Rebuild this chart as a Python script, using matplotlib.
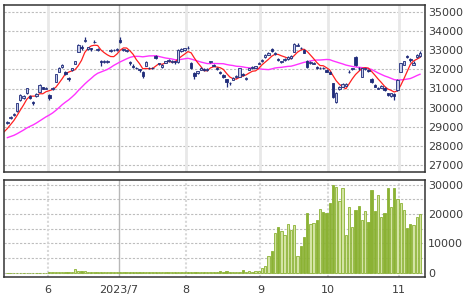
import matplotlib
matplotlib.use('Agg')
import matplotlib.pyplot as plt
import numpy as np
import pandas as pd

# month labels and number of daily bars shown per month (May..Nov)
month_labels = ['6', '2023/7', '8', '9', '10', '11']
month_days = [13, 22, 21, 23, 21, 22, 7]

# closes before the visible window, only needed for the moving averages
hist_close = [28050, 28150, 28100, 28250, 28200, 28300, 28350, 28250, 28300, 28400,
              28350, 28300, 28200, 28350, 28450, 28400, 28300, 28450, 28500, 28400,
              28500, 28600, 28900, 29250]

opens = [29200, 29450, 29600, 29820, 30400, 30480, 30750, 30620, 30300, 30600,
         30830, 31060, 31000, 30680, 30950, 31360, 31880, 32120, 31850, 31560,
         31950, 32300, 32930, 33200, 33500, 33080, 33100, 33420, 33020, 32450,
         32380, 32400, 32980, 33000, 33030, 33550, 33000, 32950, 32400, 32200,
         32100, 32000, 31850, 32200, 32100, 32050, 32700, 32280, 32150, 32350,
         32450, 32400, 32420, 32400, 32950, 33000, 33150, 32350, 31800, 31800,
         31980, 32020, 31950, 32380, 32250, 32100, 31880, 31700, 31480, 31300,
         31450, 31600, 31620, 31750, 31480, 31980, 32050, 32100, 32300, 32420,
         32650, 32780, 33050, 32800, 32550, 32380, 32500, 32560, 32600, 32930,
         33250, 33150, 33000, 32460, 32350, 32300, 32150, 32050, 32100, 31950,
         31850, 31270, 30300, 30950, 31100, 31150, 31850, 32000, 32670, 32100,
         31620, 32000, 31980, 31500, 31200, 31000, 31050, 31050, 30750, 30600,
         30700, 30920, 31880, 32250, 32720, 32560, 32250, 32650, 32700]
highs = [29300, 29580, 29720, 30250, 30700, 30650, 31050, 30680, 30340, 30760,
         31220, 31100, 31100, 30720, 31060, 31780, 32140, 32260, 31900, 31600,
         32100, 32460, 33320, 33260, 33680, 33200, 33150, 33560, 33120, 32520,
         32490, 32500, 33080, 33080, 33120, 33680, 33090, 33040, 32450, 32260,
         32150, 32040, 31900, 32440, 32150, 32140, 32760, 32360, 32260, 32460,
         32540, 32480, 32460, 33060, 33120, 33140, 33240, 32400, 31850, 31930,
         32110, 32060, 32070, 32460, 32300, 32140, 31920, 31740, 31520, 31340,
         31580, 31720, 32100, 31800, 31600, 32100, 32180, 32200, 32400, 32540,
         32820, 32890, 33100, 32900, 32600, 32460, 32600, 32680, 32740, 33380,
         33400, 33200, 33060, 32500, 32440, 32400, 32200, 32140, 32140, 32000,
         31900, 31300, 30800, 31140, 31280, 31300, 31950, 32100, 32720, 32140,
         32100, 32100, 32020, 31540, 31240, 31090, 31190, 31090, 30790, 30790,
         30740, 31490, 32360, 32460, 32760, 32600, 32420, 32820, 32960]
lows = [29150, 29420, 29560, 29790, 30370, 30440, 30720, 30440, 30120, 30560,
        30800, 30950, 30960, 30420, 30900, 31330, 31850, 32080, 31700, 31380,
        31920, 32280, 32900, 33040, 33450, 33040, 32980, 33380, 32980, 32200,
        32340, 32360, 32940, 32960, 32990, 33400, 32960, 32900, 32250, 32100,
        32020, 31880, 31550, 32170, 32020, 32000, 32560, 32230, 32100, 32320,
        32400, 32360, 32260, 32360, 32920, 32960, 33060, 32020, 31500, 31760,
        31950, 31940, 31920, 32340, 32160, 31960, 31740, 31550, 31100, 31180,
        31420, 31560, 31600, 31640, 31440, 31950, 32020, 32060, 32260, 32380,
        32620, 32750, 32940, 32760, 32420, 32340, 32460, 32520, 32560, 32900,
        33220, 33060, 32840, 32060, 32300, 32260, 32020, 32000, 32000, 31840,
        31740, 30520, 30250, 30920, 31060, 31120, 31800, 31960, 32200, 31960,
        31580, 31960, 31860, 31300, 31060, 30960, 31020, 30880, 30600, 30560,
        30420, 30880, 31840, 32210, 32580, 32400, 32210, 32610, 32660]
closes = [29260, 29520, 29660, 30220, 30660, 30600, 31010, 30500, 30220, 30720,
          31180, 31000, 31050, 30480, 31020, 31750, 32100, 32220, 31750, 31480,
          32060, 32420, 33280, 33140, 33540, 33160, 33050, 33460, 33080, 32380,
          32450, 32460, 33020, 33040, 33080, 33450, 33050, 33000, 32320, 32150,
          32060, 31970, 31680, 32400, 32060, 32100, 32620, 32330, 32230, 32420,
          32500, 32450, 32380, 33020, 33080, 33100, 33100, 32060, 31650, 31900,
          32080, 31980, 32030, 32420, 32200, 32000, 31800, 31590, 31360, 31270,
          31550, 31680, 32060, 31700, 31560, 32060, 32150, 32160, 32360, 32500,
          32780, 32850, 32980, 32850, 32480, 32420, 32560, 32640, 32700, 33330,
          33300, 33100, 32880, 32110, 32400, 32350, 32060, 32100, 32060, 31880,
          31780, 30570, 30750, 31100, 31240, 31260, 31880, 32060, 32230, 32060,
          32060, 32060, 31920, 31360, 31100, 31050, 31150, 30920, 30660, 30750,
          30600, 31450, 32320, 32420, 32640, 32480, 32360, 32780, 32880]
volume = [0, 0, 0, 0, 0, 0, 0, 0, 0, 0,
          0, 0, 0, 100, 150, 120, 100, 150, 200, 150,
          250, 1100, 450, 550, 500, 150, 120, 100, 150, 100,
          120, 150, 130, 100, 120, 150, 100, 120, 100, 150,
          120, 100, 130, 150, 120, 100, 120, 150, 130, 100,
          120, 150, 120, 300, 350, 250, 200, 150, 120, 150,
          130, 100, 150, 120, 150, 350, 450, 400, 450, 350,
          300, 250, 300, 800, 350, 450, 400, 680, 700, 1600,
          2200, 5600, 7500, 13500, 15500, 14100, 12750, 16700, 14450, 16250,
          5800, 9000, 12170, 20350, 16600, 16950, 17860, 21800, 20600, 20350,
          23760, 30000, 29200, 24340, 28900, 12750, 22300, 15500, 21480, 22640,
          18070, 21030, 17290, 28300, 20930, 26600, 19000, 20460, 28900, 22300,
          28900, 25130, 23660, 21380, 15240, 16600, 16160, 19000, 20000]

o = np.array(opens)
h = np.array(highs)
l = np.array(lows)
c = np.array(closes)
vol = np.array(volume)
n = len(c)
x = np.arange(n)
up = c >= o

# moving averages over history + visible closes
c_all = pd.Series(hist_close + closes)
x_all = np.arange(-len(hist_close), n)
ma5 = c_all.rolling(5).mean()
ma25 = c_all.rolling(25).mean()

month_pos = np.cumsum(month_days)[:-1] - 0.5

navy = '#1f2b7a'
green = '#8bb234'
txt = '#3c3c3c'

fig = plt.figure(figsize=(4.7, 2.95), dpi=100)
ax1 = fig.add_axes([4 / 470, 1 - 172 / 295, 421 / 470, 167 / 295])
ax2 = fig.add_axes([4 / 470, 1 - 277 / 295, 421 / 470, 97 / 295])

# price panel
for v in np.arange(27000, 35001, 1000):
    ax1.axhline(v, color='#bdbdbd', lw=0.8, ls=(0, (2, 1.5)), zorder=0)
for pos, lab in zip(month_pos, month_labels):
    if '/' in lab:
        ax1.axvline(pos, color='#b8b8b8', lw=1.0, zorder=0)
    else:
        ax1.axvline(pos, color='#e8e8e8', lw=2.0, zorder=0)

ax1.plot(x_all, ma25, color='#ff33ff', lw=1.0, zorder=2)
ax1.plot(x_all, ma5, color='#ff2020', lw=0.9, zorder=2)

body_low = np.minimum(o, c)
body_h = np.maximum(np.abs(c - o), 25)
ax1.vlines(x, l, h, color=navy, lw=0.9, zorder=3)
ax1.bar(x[up], body_h[up], 0.75, bottom=body_low[up], color='#c5cbe8',
        edgecolor=navy, lw=0.6, zorder=4)
ax1.bar(x[~up], body_h[~up], 0.75, bottom=body_low[~up], color=navy,
        edgecolor=navy, lw=0.6, zorder=4)

ax1.set_xlim(-1.05, 129.55)
ax1.set_ylim(26620, 35380)
ax1.set_xticks([])
ax1.yaxis.tick_right()
ax1.set_yticks(np.arange(27000, 35001, 1000))
ax1.tick_params(axis='y', length=0, pad=2, labelsize=8, labelcolor=txt)

# volume panel
for v in np.arange(0, 30001, 5000):
    ax2.axhline(v, color='#bdbdbd', lw=0.8, ls=(0, (2, 1.5)), zorder=0)
for pos, lab in zip(month_pos, month_labels):
    if '/' in lab:
        ax2.axvline(pos, color='#b8b8b8', lw=1.0, zorder=0)
    else:
        ax2.axvline(pos, color='#d8d8d8', lw=1.5, ls=(0, (1, 1)), zorder=0)

ax2.bar(x[up], vol[up], 0.72, color='#d4e4a4', edgecolor=green, lw=0.6, zorder=3)
ax2.bar(x[~up], vol[~up], 0.72, color=green, edgecolor=green, lw=0.6, zorder=3)

ax2.set_xlim(-1.05, 129.55)
ax2.set_ylim(-1470, 31600)
ax2.yaxis.tick_right()
ax2.set_yticks([0, 10000, 20000, 30000])
ax2.set_xticks(month_pos)
ax2.set_xticklabels(month_labels)
ax2.tick_params(axis='y', length=0, pad=2, labelsize=8, labelcolor=txt)
ax2.tick_params(axis='x', length=0, pad=5.5, labelsize=8, labelcolor=txt)

for ax in (ax1, ax2):
    for s in ax.spines.values():
        s.set_color('#333333')
        s.set_linewidth(1.1)

fig.savefig('out.png', dpi=100)
